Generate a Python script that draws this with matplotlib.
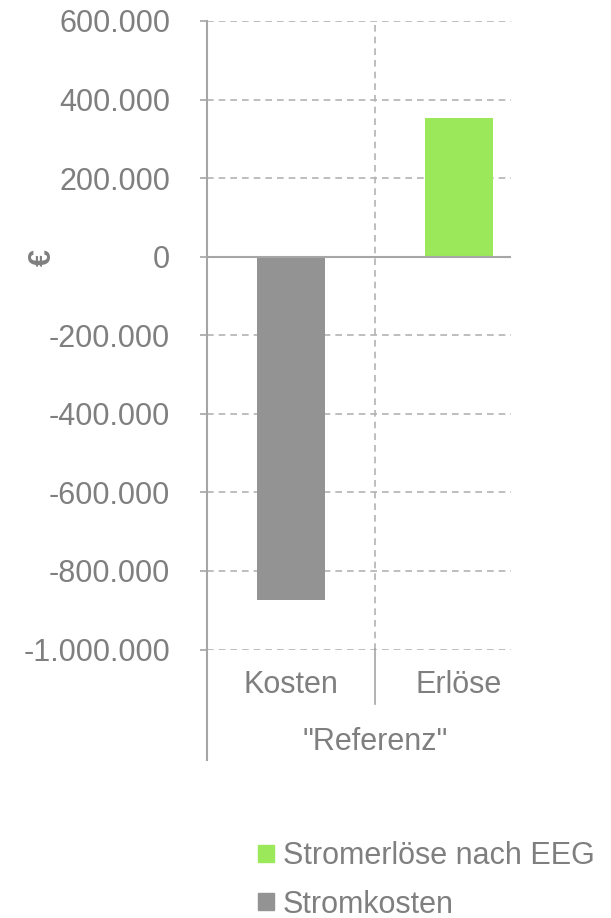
import matplotlib.pyplot as plt
from matplotlib.lines import Line2D
from matplotlib.patches import Patch
from matplotlib.ticker import FuncFormatter, MultipleLocator

plt.rcParams['font.family'] = ['Liberation Sans', 'DejaVu Sans']

# values in euro
categories = ['Kosten', 'Erlöse']
series_names = ['Stromkosten', 'Stromerlöse nach EEG']
series_values = [-875000, 354000]
group_label = '"Referenz"'

txt = '#7f7f7f'
line_c = '#a6a6a6'
grid_c = '#b3b3b3'
bar_colors = ['#939393', '#9be85a']
fs = 22

W, H = 611, 918
fig = plt.figure(figsize=(W / 100, H / 100), dpi=100)
ax = fig.add_axes([207 / W, 1 - 649.5 / H, (511 - 207) / W, (649.5 - 21) / H])

x = list(range(len(categories)))
ax.bar(x, series_values, width=0.4, color=bar_colors, zorder=3)

ax.set_xlim(-0.5, 1.31)
ax.set_ylim(-1000000, 600000)
ax.yaxis.set_major_locator(MultipleLocator(200000))
ax.yaxis.set_major_formatter(FuncFormatter(lambda v, p: f'{int(v):,}'.replace(',', '.')))

# dashed horizontal grid, solid zero line
for t in range(-1000000, 600001, 200000):
    if t != 0:
        ax.axhline(t, color=grid_c, lw=1.2, ls=(0, (4, 3)), zorder=1)
ax.axhline(0, color=line_c, lw=1.5, zorder=4)
ax.axvline(0.5, color=grid_c, lw=1.2, ls=(0, (4, 3)), zorder=1)

for s in ['top', 'right', 'bottom']:
    ax.spines[s].set_visible(False)
ax.spines['left'].set_color(line_c)
ax.spines['left'].set_linewidth(1.5)

ax.tick_params(axis='y', colors=line_c, labelcolor=txt, labelsize=fs,
               length=5, width=1.2, pad=21.5)
ax.set_xticks(x)
ax.set_xticklabels(categories)
ax.tick_params(axis='x', length=0, labelcolor=txt, labelsize=fs, pad=15)

ax.set_ylabel('€', color=txt, fontsize=22, fontweight='bold')
ax.yaxis.set_label_coords((58 - 207) / (511 - 207), (649.5 - 257) / (649.5 - 21))

# category separators below the plot area
fig.add_artist(Line2D([207 / W, 207 / W], [1 - 649 / H, 1 - 760 / H],
                      color=line_c, lw=1.5))
fig.add_artist(Line2D([375 / W, 375 / W], [1 - 649 / H, 1 - 704 / H],
                      color=line_c, lw=1.2))
fig.text(375 / W, 1 - 742 / H, group_label, color=txt, fontsize=fs,
         ha='center', va='center')

handles = [Patch(color=bar_colors[1], label=series_names[1]),
           Patch(color=bar_colors[0], label=series_names[0])]
fig.legend(handles=handles, loc='upper left', bbox_to_anchor=(243 / W, 1 - 826 / H),
           frameon=False, fontsize=fs, labelcolor=txt, handlelength=0.5,
           handleheight=0.5, handletextpad=0.3, labelspacing=0.6, borderpad=0)

fig.savefig('out.png', dpi=100)
